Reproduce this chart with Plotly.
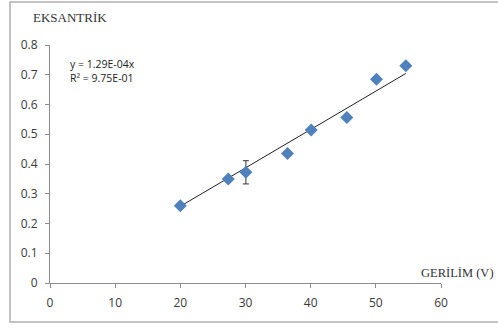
import numpy as np
import plotly.graph_objects as go

# Measured points: voltage (V) vs. eccentricity
voltage = [20.0, 27.35, 30.06, 36.45, 40.08, 45.55, 50.1, 54.6]
eccentricity = [0.26, 0.35, 0.372, 0.435, 0.514, 0.556, 0.685, 0.730]
# Only the 30 V measurement carries an error bar
err_voltage = [30.06]
err_value = [0.372]
err_size = [0.039]

x_ticks = [0, 10, 20, 30, 40, 50, 60]
y_ticks = [0, 0.1, 0.2, 0.3, 0.4, 0.5, 0.6, 0.7, 0.8]

# Linear fit through the origin
xv = np.array(voltage)
yv = np.array(eccentricity)
slope = float((xv * yv).sum() / (xv * xv).sum())
fit_x = [xv.min(), xv.max()]
fit_y = [slope * v for v in fit_x]

W, H = 498, 329
L, R, T, B = 50, 57, 45, 46
pw, ph = W - L - R, H - T - B


def px(xp):
    return (xp - L) / pw


def py(yp):
    return (H - B - yp) / ph


fig = go.Figure()
fig.add_trace(go.Scatter(
    x=fit_x, y=fit_y, mode="lines",
    line=dict(color="#222222", width=1), hoverinfo="skip",
))
fig.add_trace(go.Scatter(
    x=err_voltage, y=err_value, mode="markers",
    marker=dict(size=1, color="rgba(0,0,0,0)"),
    error_y=dict(type="data", array=err_size, color="#333333",
                 thickness=1, width=3),
))
fig.add_trace(go.Scatter(
    x=voltage, y=eccentricity, mode="markers",
    marker=dict(symbol="diamond", size=10, color="#4F81BD",
                line=dict(width=0)),
))

axis_font = dict(family="Open Sans, Liberation Sans, sans-serif", size=12,
                 color="#3a3a3a")
fig.update_xaxes(
    range=[0, 60], tickvals=x_ticks, showgrid=False, zeroline=False,
    showline=True, linecolor="#8c8c8c", linewidth=1,
    ticks="outside", ticklen=4, tickcolor="#8c8c8c",
    tickfont=axis_font, ticklabelstandoff=5,
)
fig.update_yaxes(
    range=[0, 0.8], tickvals=y_ticks, showgrid=False, zeroline=False,
    showline=True, linecolor="#8c8c8c", linewidth=1,
    ticks="outside", ticklen=4, tickcolor="#8c8c8c",
    tickfont=axis_font, ticklabelstandoff=5,
)

title_font = dict(family="Liberation Serif, DejaVu Serif, serif", size=13,
                  color="#333333")
annotations = [
    dict(text="EKSANTRİK", x=px(31), y=py(18), xanchor="left",
         yanchor="middle", showarrow=False, font=title_font),
    dict(text="GERİLİM (V)", x=px(496), y=py(273), xanchor="right",
         yanchor="middle", showarrow=False,
         font=dict(title_font, size=12.5)),
    dict(text="y = 1.29E-04x<br>R² = 9.75E-01", x=px(68), y=py(71),
         xanchor="left", yanchor="middle", align="left", showarrow=False,
         font=dict(family="Open Sans, Liberation Sans, sans-serif", size=10.5,
                   color="#222222")),
]
for a in annotations:
    a["xref"] = "paper"
    a["yref"] = "paper"

fig.update_layout(
    width=W, height=H,
    margin=dict(l=L, r=R, t=T, b=B),
    paper_bgcolor="white", plot_bgcolor="white",
    showlegend=False,
    annotations=annotations,
    shapes=[dict(type="rect", xref="paper", yref="paper",
                 x0=px(10), x1=px(520), y0=py(322), y1=py(2),
                 line=dict(color="#b0b0b0", width=1.5),
                 fillcolor="rgba(0,0,0,0)", layer="below")],
)

fig.write_html("out.html")
